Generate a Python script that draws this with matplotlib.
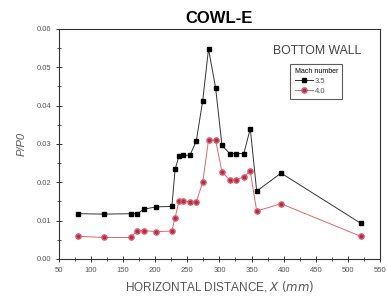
import numpy as np
import matplotlib
matplotlib.use("Agg")
from matplotlib import pyplot as plt
from matplotlib.ticker import MultipleLocator

plt.rcParams['font.family'] = ['Liberation Sans', 'DejaVu Sans']

x = [80, 121, 162, 172, 183, 202, 226, 231, 237, 243, 254, 264, 274, 283, 294,
     304, 316, 326, 338, 348, 358, 396, 520]
p35 = [0.0118, 0.0117, 0.0118, 0.0118, 0.0130, 0.0136, 0.0137, 0.0234, 0.0268, 0.0271,
       0.0270, 0.0308, 0.0413, 0.0548, 0.0447, 0.0296, 0.0275, 0.0275, 0.0275, 0.0340,
       0.0177, 0.0224, 0.0093]
p40 = [0.0059, 0.0056, 0.0056, 0.0074, 0.0074, 0.0071, 0.0073, 0.0108, 0.0150, 0.0151,
       0.0149, 0.0149, 0.0200, 0.0310, 0.0310, 0.0227, 0.0206, 0.0207, 0.0214, 0.0229,
       0.0125, 0.0144, 0.0059]
mach = ['3.5', '4.0']

fig = plt.figure(figsize=(3.87, 3.05), dpi=100)
ax = fig.add_axes([0.152, 0.151, 0.83, 0.754])

ax.plot(x, p35, color='#333333', lw=0.7, marker='s', ms=3.5,
        mfc='black', mec='black', label=mach[0])
ax.plot(x, p40, color='#e06868', lw=0.7, marker='o', ms=3.8,
        mfc='#a8304a', mec='#e06070', label=mach[1])

ax.set_xlim(50, 550)
ax.set_ylim(0, 0.06)
ax.xaxis.set_major_locator(MultipleLocator(50))
ax.xaxis.set_minor_locator(MultipleLocator(25))
ax.yaxis.set_major_locator(MultipleLocator(0.01))
ax.yaxis.set_minor_locator(MultipleLocator(0.005))
ax.yaxis.set_major_formatter(matplotlib.ticker.FormatStrFormatter('%.2f'))
ax.tick_params(which='major', direction='inout', length=4, width=0.7,
               labelsize=5.5, labelcolor='#555555', color='#333333')
ax.tick_params(which='minor', direction='inout', length=2.5, width=0.6, color='#333333')
for s in ax.spines.values():
    s.set_linewidth(0.8)
    s.set_color('#333333')

ax.set_title('COWL-E', fontsize=12, fontweight='bold', pad=4)
ax.set_ylabel('P/P0', fontsize=8, style='italic', color='#555555', labelpad=7)
ax.set_xlabel('HORIZONTAL DISTANCE, $\\mathit{X}$ $\\mathit{(mm)}$', fontsize=8.5,
              color='#555555', labelpad=4)
ax.text(0.94, 0.93, 'BOTTOM WALL', transform=ax.transAxes, ha='right', va='top',
        fontsize=8.8, color='#444444')

leg = ax.legend(title='Mach number', loc='upper right', bbox_to_anchor=(0.895, 0.865),
                fontsize=5.5, title_fontsize=5, frameon=True, fancybox=False,
                edgecolor='#333333', handlelength=2.4, borderpad=0.6,
                labelspacing=0.3, handletextpad=0.3)
leg.get_frame().set_linewidth(0.8)
leg._legend_box.align = 'left'
for t in leg.get_texts():
    t.set_color('#555555')

fig.savefig('out.png', dpi=100)
